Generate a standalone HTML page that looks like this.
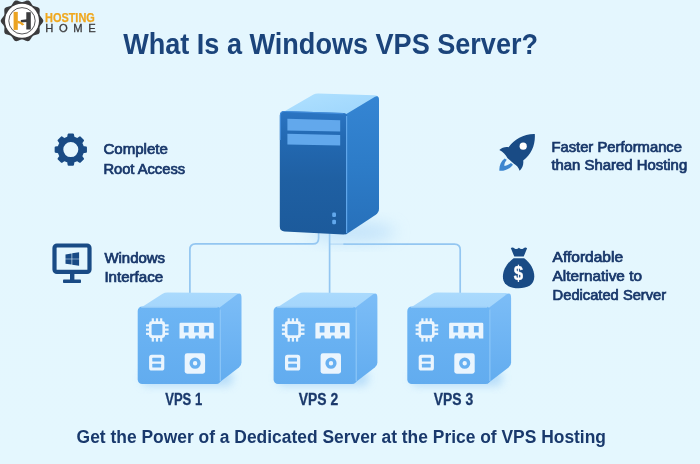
<!DOCTYPE html>
<html lang="en"><head><meta charset="utf-8"><title>What Is a Windows VPS Server?</title>
<style>
html,body{margin:0;padding:0;background:#e4f6fe;}
body{width:700px;height:464px;overflow:hidden;font-family:"Liberation Sans",Arial,sans-serif;}
svg{display:block;opacity:0.9999}
text{font-family:"Liberation Sans",Arial,sans-serif;}
.ft{font-size:14.2px;font-weight:normal;fill:#18376a;stroke:#18376a;stroke-width:0.7px;letter-spacing:0px}
.vps{font-size:16px;font-weight:bold;fill:#1b3a6c;stroke:#1b3a6c;stroke-width:0.3px}
</style></head><body>
<svg width="700" height="464" viewBox="0 0 700 464">
<defs>
  <linearGradient id="bg" x1="0" y1="0" x2="0" y2="1"><stop offset="0" stop-color="#e4f6fe"/><stop offset="1" stop-color="#e4f7fe"/></linearGradient>
  <filter id="blur4" x="-50%" y="-50%" width="200%" height="200%"><feGaussianBlur stdDeviation="4"/></filter>
  <filter id="blur8" x="-50%" y="-50%" width="200%" height="200%"><feGaussianBlur stdDeviation="8"/></filter>
  <linearGradient id="srvFront" x1="0" y1="0" x2="0" y2="1"><stop offset="0" stop-color="#2b75c3"/><stop offset="0.22" stop-color="#2369b2"/><stop offset="0.55" stop-color="#1f60a3"/><stop offset="1" stop-color="#1c5a9b"/></linearGradient>
  <linearGradient id="srvSide" x1="0" y1="0" x2="0" y2="1"><stop offset="0" stop-color="#3585d3"/><stop offset="0.5" stop-color="#2d7cc8"/><stop offset="1" stop-color="#2770ba"/></linearGradient>
  <linearGradient id="srvTop" x1="0" y1="0" x2="1" y2="1"><stop offset="0" stop-color="#b0e1ff"/><stop offset="1" stop-color="#9dd5fc"/></linearGradient>
  <linearGradient id="cubeFront" x1="0" y1="0" x2="0" y2="1"><stop offset="0" stop-color="#6db5f4"/><stop offset="1" stop-color="#62acef"/></linearGradient>
  <linearGradient id="cubeSide" x1="0" y1="0" x2="0" y2="1"><stop offset="0" stop-color="#7cbdf7"/><stop offset="1" stop-color="#62acef"/></linearGradient>
  <linearGradient id="cubeTop" x1="0" y1="0" x2="0" y2="1"><stop offset="0" stop-color="#aadafd"/><stop offset="1" stop-color="#a2d4fb"/></linearGradient>
</defs>
<rect width="700" height="464" fill="url(#bg)"/>

<!-- logo -->
<g>
  <path d="M43.30 20.80 L43.12 21.63 L42.73 22.43 L42.20 23.19 L41.61 23.91 L41.03 24.58 L40.50 25.24 L40.08 25.90 L39.78 26.58 L39.62 27.30 L39.58 28.08 L39.62 28.92 L39.69 29.82 L39.75 30.74 L39.73 31.66 L39.58 32.54 L39.23 33.32 L38.60 33.89 L37.81 34.30 L36.94 34.61 L36.04 34.84 L35.17 35.05 L34.36 35.27 L33.63 35.55 L32.99 35.93 L32.44 36.42 L31.94 37.02 L31.48 37.73 L31.02 38.49 L30.52 39.27 L29.96 40.01 L29.32 40.63 L28.58 41.06 L27.74 41.14 L26.85 41.02 L25.97 40.75 L25.11 40.41 L24.28 40.07 L23.49 39.77 L22.74 39.57 L22.00 39.50 L21.26 39.57 L20.51 39.77 L19.72 40.07 L18.89 40.41 L18.03 40.75 L17.15 41.02 L16.26 41.14 L15.42 41.06 L14.68 40.63 L14.04 40.01 L13.48 39.27 L12.98 38.49 L12.52 37.73 L12.06 37.02 L11.56 36.42 L11.01 35.93 L10.37 35.55 L9.64 35.27 L8.83 35.05 L7.96 34.84 L7.06 34.61 L6.19 34.30 L5.40 33.89 L4.77 33.32 L4.42 32.54 L4.27 31.66 L4.25 30.74 L4.31 29.82 L4.38 28.92 L4.42 28.08 L4.38 27.30 L4.22 26.58 L3.92 25.90 L3.50 25.24 L2.97 24.58 L2.39 23.91 L1.80 23.19 L1.27 22.43 L0.88 21.63 L0.70 20.80 L0.88 19.97 L1.27 19.17 L1.80 18.41 L2.39 17.69 L2.97 17.02 L3.50 16.36 L3.92 15.70 L4.22 15.02 L4.38 14.30 L4.42 13.52 L4.38 12.68 L4.31 11.78 L4.25 10.86 L4.27 9.94 L4.42 9.06 L4.77 8.28 L5.40 7.71 L6.19 7.30 L7.06 6.99 L7.96 6.76 L8.83 6.55 L9.64 6.33 L10.37 6.05 L11.01 5.67 L11.56 5.18 L12.06 4.58 L12.52 3.87 L12.98 3.11 L13.48 2.33 L14.04 1.59 L14.68 0.97 L15.42 0.54 L16.26 0.46 L17.15 0.58 L18.03 0.85 L18.89 1.19 L19.72 1.53 L20.51 1.83 L21.26 2.03 L22.00 2.10 L22.74 2.03 L23.49 1.83 L24.28 1.53 L25.11 1.19 L25.97 0.85 L26.85 0.58 L27.74 0.46 L28.58 0.54 L29.32 0.97 L29.96 1.59 L30.52 2.33 L31.02 3.11 L31.48 3.87 L31.94 4.58 L32.44 5.18 L32.99 5.67 L33.63 6.05 L34.36 6.33 L35.17 6.55 L36.04 6.76 L36.94 6.99 L37.81 7.30 L38.60 7.71 L39.23 8.28 L39.58 9.06 L39.73 9.94 L39.75 10.86 L39.69 11.78 L39.62 12.68 L39.58 13.52 L39.62 14.30 L39.78 15.02 L40.08 15.70 L40.50 16.36 L41.03 17.02 L41.61 17.69 L42.20 18.41 L42.73 19.17 L43.12 19.97 L43.30 20.80Z" fill="#3b3b3d"/>
  <circle cx="22" cy="20.8" r="17" fill="#fff"/>
  <circle cx="22" cy="20.8" r="13.2" fill="none" stroke="#454547" stroke-width="0.9"/>
  <rect x="13.6" y="11.9" width="4.2" height="18" fill="#eba321"/>
  <rect x="26.3" y="12.2" width="4.5" height="17.3" fill="#3b3b3d"/>
  <path d="M20.8 19.9 L27 19.2 V22 L20.8 22.4Z" fill="#3b3b3d"/>
  <path d="M17.4 20.4 Q21.4 21 24.4 24.6 L22.2 25.4 Q20.4 23.2 17.4 23.2Z" fill="#eba321"/>
  <text x="45" y="21.9" font-size="12.8" font-weight="bold" fill="#f0a81e" stroke="#f0a81e" stroke-width="0.25" textLength="49.8" lengthAdjust="spacingAndGlyphs">HOSTING</text>
  <text x="45.2" y="32.4" font-size="11.2" fill="#3b3b3d" stroke="#3b3b3d" stroke-width="0.3" textLength="50.4" lengthAdjust="spacing">HOME</text>
</g>

<!-- title -->
<text x="123.2" y="54.4" font-size="30" font-weight="bold" fill="#1b447b" textLength="414.8" lengthAdjust="spacingAndGlyphs">What Is a Windows VPS Server?</text>

<!-- connector lines -->
<g fill="none" stroke="#93c6f1" stroke-width="1.7" stroke-linecap="round">
  <path d="M189.9 293 V249.6 Q189.9 243.9 195.6 243.9 H313 Q318.6 243.9 318.6 238.2 V231"/>
  <path d="M329.6 232 V293"/>
  <path d="M330.4 244.1 H345" opacity="0.4"/>
  <path d="M344 244.1 H454.5 Q460.2 244.1 460.2 249.8 V293"/>
</g>

<!-- server -->
<g>
  <ellipse cx="352" cy="232" rx="44" ry="10" fill="#a9d4f7" opacity="0.55" filter="url(#blur8)"/>
  <path d="M281.5 113 L313.5 94.6 Q315.5 93.4 318.5 93.5 L374 95.3 Q378.6 95.6 378.2 98 L347 115 Z" fill="url(#srvTop)"/>
  <path d="M345.5 114.5 L374.6 97 Q379 94.6 379 100 L379 208.6 Q379 212.6 375.8 214.8 L345.5 234.8 Z" fill="url(#srvSide)"/>
  <path d="M284.4 110.9 L343.5 113 Q347 113.2 347 116.8 L347 231 Q347 234.7 343.4 234.5 L284.6 231.4 Q279.8 231.1 279.8 226.4 L279.8 115.5 Q279.8 110.8 284.4 110.9 Z" fill="url(#srvFront)"/>
  <path d="M346.6 116 V233" stroke="#5fa6ea" stroke-width="1.2" fill="none"/>
  <path d="M280.4 140 V115.6 Q280.4 111.4 284.6 111.5 L343.5 113.6" stroke="#4791de" stroke-width="1.1" fill="none" opacity="0.85"/>
  <path d="M287.4 118.8 L340.2 120.2 L340.2 131.4 L287.4 130.4 Z" fill="#62a8ec"/>
  <path d="M287.4 133.8 L340.2 135 L340.2 145.6 L287.4 144.6 Z" fill="#62a8ec"/>
  <rect x="332.2" y="212.5" width="3.8" height="4.4" rx="1.2" fill="#62a8ec"/>
  <rect x="332.2" y="219.7" width="3.8" height="4.6" rx="1.2" fill="#62a8ec"/>
</g>

<!-- cubes -->

<g>
  <rect x="141.7" y="370" width="91.0" height="16" rx="6" fill="#a9d5f8" opacity="0.75" filter="url(#blur4)"/>
  <path d="M139.7 308.5 L162.2 293.9 Q164.7 292.6 167.7 292.6 L235.7 292.9 Q240.7 293.1 240.7 297.5 L222.7 312.5 Z" fill="url(#cubeTop)"/>
  <path d="M217.7 308.9 L237.2 294.3 Q241.5 291.9 241.5 298.0 L241.5 362.5 Q241.5 365.6 238.89999999999998 367.6 L217.7 383.8 Z" fill="url(#cubeSide)"/>
  <rect x="137.7" y="306.5" width="83.0" height="77.5" rx="4.5" fill="url(#cubeFront)"/>
  <path d="M141.2 307.0 H217.7" stroke="#bfe3fd" stroke-width="1" fill="none" opacity="0.9"/>
  <path d="M220.29999999999998 309.5 V381" stroke="#8fc8f8" stroke-width="1.1" fill="none"/>
  <g transform="translate(0.0 0)">
    <!-- cpu -->
    <g fill="#eaf5fe">
      <rect x="149" y="321.3" width="16" height="16.6" rx="2.4"/>
      <rect x="151.7" y="318.3" width="2.2" height="4"/><rect x="155.9" y="318.3" width="2.2" height="4"/><rect x="160.1" y="318.3" width="2.2" height="4"/>
      <rect x="151.7" y="337.2" width="2.2" height="4.4"/><rect x="155.9" y="337.2" width="2.2" height="4.4"/><rect x="160.1" y="337.2" width="2.2" height="4.4"/>
      <rect x="146" y="324.3" width="4" height="2.2"/><rect x="146" y="328.5" width="4" height="2.2"/><rect x="146" y="332.7" width="4" height="2.2"/>
      <rect x="164" y="324.3" width="4.6" height="2.2"/><rect x="164" y="328.5" width="4.6" height="2.2"/><rect x="164" y="332.7" width="4.6" height="2.2"/>
    </g>
    <rect x="151.6" y="324" width="10.8" height="11.2" rx="1.2" fill="#68b0f1"/>
    <!-- ram -->
    <path d="M180.7 322.8 H212.5 Q213.7 322.8 213.7 324 V338.6 H209.4 L208.6 335.6 H205.8 L205 338.6 H199.2 L198.4 335.6 H195.6 L194.8 338.6 H189 L188.2 335.6 H185.4 L184.6 338.6 H179.5 V324 Q179.5 322.8 180.7 322.8Z" fill="#eaf5fe"/>
    <rect x="183.8" y="325.9" width="4.8" height="6.6" rx="0.6" fill="#68b0f1"/>
    <rect x="194.1" y="325.9" width="4.8" height="6.6" rx="0.6" fill="#68b0f1"/>
    <rect x="204.3" y="325.9" width="4.8" height="6.6" rx="0.6" fill="#68b0f1"/>
    <!-- storage -->
    <rect x="149.1" y="354.8" width="15.2" height="15.8" rx="2.6" fill="#eaf5fe"/>
    <rect x="152.3" y="357.7" width="8.8" height="3.9" rx="0.6" fill="#68b0f1"/>
    <rect x="152.3" y="363.7" width="8.8" height="3.9" rx="0.6" fill="#68b0f1"/>
    <!-- disk -->
    <rect x="184.7" y="353.3" width="20.4" height="20.4" rx="2.4" fill="#eaf5fe"/>
    <circle cx="195.1" cy="363.2" r="3.9" fill="none" stroke="#68b0f1" stroke-width="3.4"/>
  </g>
</g>

<g>
  <rect x="277.6" y="370" width="91.0" height="16" rx="6" fill="#a9d5f8" opacity="0.75" filter="url(#blur4)"/>
  <path d="M275.6 308.5 L298.1 293.9 Q300.6 292.6 303.6 292.6 L371.6 292.9 Q376.6 293.1 376.6 297.5 L358.6 312.5 Z" fill="url(#cubeTop)"/>
  <path d="M353.6 308.9 L373.1 294.3 Q377.40000000000003 291.9 377.40000000000003 298.0 L377.40000000000003 362.5 Q377.40000000000003 365.6 374.8 367.6 L353.6 383.8 Z" fill="url(#cubeSide)"/>
  <rect x="273.6" y="306.5" width="83.0" height="77.5" rx="4.5" fill="url(#cubeFront)"/>
  <path d="M277.1 307.0 H353.6" stroke="#bfe3fd" stroke-width="1" fill="none" opacity="0.9"/>
  <path d="M356.20000000000005 309.5 V381" stroke="#8fc8f8" stroke-width="1.1" fill="none"/>
  <g transform="translate(135.90000000000003 0)">
    <!-- cpu -->
    <g fill="#eaf5fe">
      <rect x="149" y="321.3" width="16" height="16.6" rx="2.4"/>
      <rect x="151.7" y="318.3" width="2.2" height="4"/><rect x="155.9" y="318.3" width="2.2" height="4"/><rect x="160.1" y="318.3" width="2.2" height="4"/>
      <rect x="151.7" y="337.2" width="2.2" height="4.4"/><rect x="155.9" y="337.2" width="2.2" height="4.4"/><rect x="160.1" y="337.2" width="2.2" height="4.4"/>
      <rect x="146" y="324.3" width="4" height="2.2"/><rect x="146" y="328.5" width="4" height="2.2"/><rect x="146" y="332.7" width="4" height="2.2"/>
      <rect x="164" y="324.3" width="4.6" height="2.2"/><rect x="164" y="328.5" width="4.6" height="2.2"/><rect x="164" y="332.7" width="4.6" height="2.2"/>
    </g>
    <rect x="151.6" y="324" width="10.8" height="11.2" rx="1.2" fill="#68b0f1"/>
    <!-- ram -->
    <path d="M180.7 322.8 H212.5 Q213.7 322.8 213.7 324 V338.6 H209.4 L208.6 335.6 H205.8 L205 338.6 H199.2 L198.4 335.6 H195.6 L194.8 338.6 H189 L188.2 335.6 H185.4 L184.6 338.6 H179.5 V324 Q179.5 322.8 180.7 322.8Z" fill="#eaf5fe"/>
    <rect x="183.8" y="325.9" width="4.8" height="6.6" rx="0.6" fill="#68b0f1"/>
    <rect x="194.1" y="325.9" width="4.8" height="6.6" rx="0.6" fill="#68b0f1"/>
    <rect x="204.3" y="325.9" width="4.8" height="6.6" rx="0.6" fill="#68b0f1"/>
    <!-- storage -->
    <rect x="149.1" y="354.8" width="15.2" height="15.8" rx="2.6" fill="#eaf5fe"/>
    <rect x="152.3" y="357.7" width="8.8" height="3.9" rx="0.6" fill="#68b0f1"/>
    <rect x="152.3" y="363.7" width="8.8" height="3.9" rx="0.6" fill="#68b0f1"/>
    <!-- disk -->
    <rect x="184.7" y="353.3" width="20.4" height="20.4" rx="2.4" fill="#eaf5fe"/>
    <circle cx="195.1" cy="363.2" r="3.9" fill="none" stroke="#68b0f1" stroke-width="3.4"/>
  </g>
</g>

<g>
  <rect x="411.3" y="370" width="91.0" height="16" rx="6" fill="#a9d5f8" opacity="0.75" filter="url(#blur4)"/>
  <path d="M409.3 308.5 L431.8 293.9 Q434.3 292.6 437.3 292.6 L505.3 292.9 Q510.3 293.1 510.3 297.5 L492.3 312.5 Z" fill="url(#cubeTop)"/>
  <path d="M487.3 308.9 L506.8 294.3 Q511.1 291.9 511.1 298.0 L511.1 362.5 Q511.1 365.6 508.5 367.6 L487.3 383.8 Z" fill="url(#cubeSide)"/>
  <rect x="407.3" y="306.5" width="83.0" height="77.5" rx="4.5" fill="url(#cubeFront)"/>
  <path d="M410.8 307.0 H487.3" stroke="#bfe3fd" stroke-width="1" fill="none" opacity="0.9"/>
  <path d="M489.90000000000003 309.5 V381" stroke="#8fc8f8" stroke-width="1.1" fill="none"/>
  <g transform="translate(269.6 0)">
    <!-- cpu -->
    <g fill="#eaf5fe">
      <rect x="149" y="321.3" width="16" height="16.6" rx="2.4"/>
      <rect x="151.7" y="318.3" width="2.2" height="4"/><rect x="155.9" y="318.3" width="2.2" height="4"/><rect x="160.1" y="318.3" width="2.2" height="4"/>
      <rect x="151.7" y="337.2" width="2.2" height="4.4"/><rect x="155.9" y="337.2" width="2.2" height="4.4"/><rect x="160.1" y="337.2" width="2.2" height="4.4"/>
      <rect x="146" y="324.3" width="4" height="2.2"/><rect x="146" y="328.5" width="4" height="2.2"/><rect x="146" y="332.7" width="4" height="2.2"/>
      <rect x="164" y="324.3" width="4.6" height="2.2"/><rect x="164" y="328.5" width="4.6" height="2.2"/><rect x="164" y="332.7" width="4.6" height="2.2"/>
    </g>
    <rect x="151.6" y="324" width="10.8" height="11.2" rx="1.2" fill="#68b0f1"/>
    <!-- ram -->
    <path d="M180.7 322.8 H212.5 Q213.7 322.8 213.7 324 V338.6 H209.4 L208.6 335.6 H205.8 L205 338.6 H199.2 L198.4 335.6 H195.6 L194.8 338.6 H189 L188.2 335.6 H185.4 L184.6 338.6 H179.5 V324 Q179.5 322.8 180.7 322.8Z" fill="#eaf5fe"/>
    <rect x="183.8" y="325.9" width="4.8" height="6.6" rx="0.6" fill="#68b0f1"/>
    <rect x="194.1" y="325.9" width="4.8" height="6.6" rx="0.6" fill="#68b0f1"/>
    <rect x="204.3" y="325.9" width="4.8" height="6.6" rx="0.6" fill="#68b0f1"/>
    <!-- storage -->
    <rect x="149.1" y="354.8" width="15.2" height="15.8" rx="2.6" fill="#eaf5fe"/>
    <rect x="152.3" y="357.7" width="8.8" height="3.9" rx="0.6" fill="#68b0f1"/>
    <rect x="152.3" y="363.7" width="8.8" height="3.9" rx="0.6" fill="#68b0f1"/>
    <!-- disk -->
    <rect x="184.7" y="353.3" width="20.4" height="20.4" rx="2.4" fill="#eaf5fe"/>
    <circle cx="195.1" cy="363.2" r="3.9" fill="none" stroke="#68b0f1" stroke-width="3.4"/>
  </g>
</g>
<text class="vps" x="165.2" y="405" textLength="37" lengthAdjust="spacingAndGlyphs">VPS 1</text>
<text class="vps" x="298.8" y="405" textLength="39.4" lengthAdjust="spacingAndGlyphs">VPS 2</text>
<text class="vps" x="433.8" y="405" textLength="39.4" lengthAdjust="spacingAndGlyphs">VPS 3</text>

<!-- gear -->
<path d="M82.90 146.90 L85.95 147.44 L85.95 151.76 L82.90 152.30 L81.27 156.24 L83.04 158.79 L79.99 161.84 L77.44 160.07 L73.50 161.70 L72.96 164.75 L68.64 164.75 L68.10 161.70 L64.16 160.07 L61.61 161.84 L58.56 158.79 L60.33 156.24 L58.70 152.30 L55.65 151.76 L55.65 147.44 L58.70 146.90 L60.33 142.96 L58.56 140.41 L61.61 137.36 L64.16 139.13 L68.10 137.50 L68.64 134.45 L72.96 134.45 L73.50 137.50 L77.44 139.13 L79.99 137.36 L83.04 140.41 L81.27 142.96Z M79.3 149.6 A8.5 8.5 0 1 0 62.3 149.6 A8.5 8.5 0 1 0 79.3 149.6Z" fill="#194b85" fill-rule="evenodd" stroke="#194b85" stroke-width="2" stroke-linejoin="round"/>
<text class="ft" x="103.4" y="154.3" textLength="64.5" lengthAdjust="spacingAndGlyphs">Complete</text>
<text class="ft" x="103.4" y="173.5" textLength="81.7" lengthAdjust="spacingAndGlyphs">Root Access</text>

<!-- monitor -->
<g>
  <rect x="54.5" y="245.5" width="35" height="26.4" rx="2.4" fill="none" stroke="#194b85" stroke-width="4.2"/>
  <rect x="70" y="273" width="4.4" height="7" fill="#194b85"/>
  <rect x="63" y="279.4" width="18" height="3.6" rx="0.8" fill="#194b85"/>
  <path d="M65.5 254.4 L71.6 253.5 V258.7 H65.5Z M72.2 253.3 L79.1 252.3 V258.7 H72.2Z M65.5 259.3 H71.6 V264.6 L65.5 263.7Z M72.2 259.3 H79.1 V265.7 L72.2 264.8Z" fill="#194b85"/>
</g>
<text class="ft" x="104.4" y="263" textLength="60.7" lengthAdjust="spacingAndGlyphs">Windows</text>
<text class="ft" x="104.4" y="282" textLength="58.8" lengthAdjust="spacingAndGlyphs">Interface</text>

<!-- rocket -->
<g>
  <path d="M534.8 133.9 C524 133.6 514 139.5 508.6 147.2 C505.4 146.6 501.8 147.6 499.3 150 C503 152 505.8 154.6 507.6 158.2 L513.6 163.4 C516.6 165 518.6 167.6 519.6 170.8 C522.4 168 523.8 164.4 523.2 160.4 C531.4 154.6 535.6 144.6 534.8 133.9 Z" fill="#194b85"/>
  <circle cx="523.2" cy="146.2" r="3.6" fill="#fff"/>
  <path d="M504.6 158.4 C500.6 161.6 499 166 499.4 170.8 C504.4 171.2 509.4 169.4 513 164.8 L511 163 C508.6 164.8 506.4 165.6 504.2 165.8 C504.4 163.6 505.2 161.6 506.8 159.8 Z" fill="#3d86cf"/>
</g>
<text class="ft" x="551.4" y="151.5" textLength="130.6" lengthAdjust="spacingAndGlyphs">Faster Performance</text>
<text class="ft" x="551.4" y="169.7" textLength="135.8" lengthAdjust="spacingAndGlyphs">than Shared Hosting</text>

<!-- money bag -->
<g>
  <path d="M510.8 248 Q512.6 246.6 514.6 248.4 Q516.6 249.8 518.9 247.8 Q521.2 249.8 523.3 248.4 Q525.4 246.6 527.1 248.2 L523.7 256.6 H514.3 Z" fill="#194b85"/>
  <path d="M513.6 258.2 H524.2 C530 262.4 534.3 269.4 534.3 276.6 C534.3 285.4 527 288.3 518.6 288.3 C510.2 288.3 502.9 285.4 502.9 276.6 C502.9 269.4 507.8 262.4 513.6 258.2 Z" fill="#194b85"/>
  <text transform="translate(518.3 280.2) scale(0.8 1)" font-size="21" font-weight="bold" fill="#fff" stroke="#fff" stroke-width="0.4" text-anchor="middle">$</text>
</g>
<text class="ft" x="552.6" y="262.2" textLength="70.5" lengthAdjust="spacingAndGlyphs">Affordable</text>
<text class="ft" x="552.6" y="281.1" textLength="89.3" lengthAdjust="spacingAndGlyphs">Alternative to</text>
<text class="ft" x="552.6" y="299.9" textLength="113.6" lengthAdjust="spacingAndGlyphs">Dedicated Server</text>

<!-- footer -->
<text x="76.6" y="443.2" font-size="19.2" textLength="529.4" lengthAdjust="spacingAndGlyphs" font-weight="bold" fill="#19396c">Get the Power of a Dedicated Server at the Price of VPS Hosting</text>
</svg>
</body></html>
